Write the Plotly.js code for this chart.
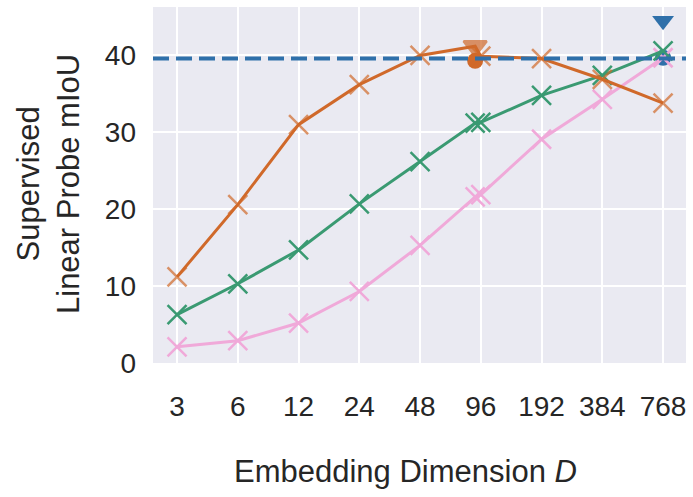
<!DOCTYPE html>
<html>
<head>
<meta charset="utf-8">
<script src="https://cdn.plot.ly/plotly-3.0.1.min.js"></script>
<style>html,body{margin:0;padding:0;background:#fff;}#chart{width:693px;height:497px;}</style>
</head>
<body>
<div id="chart"></div>
<script>
// Embedding dimensions (x) - 90 is the extra point next to 96
const dims = [3, 6, 12, 24, 48, 90, 96, 192, 384, 768];
const tickDims = [3, 6, 12, 24, 48, 96, 192, 384, 768];
const tickLabels = ["3", "6", "12", "24", "48", "96", "192", "384", "768"];
const yTicks = [0, 10, 20, 30, 40];

// Series values (mIoU)
const orangeVals = [11.2, 20.6, 31.0, 36.2, 40.0, 41.2, 39.9, 39.6, 36.9, 33.8];
const greenVals  = [6.3, 10.3, 14.7, 20.7, 26.2, 31.2, 31.3, 34.8, 37.4, 40.6];
const pinkVals   = [2.1, 2.9, 5.2, 9.3, 15.3, 21.6, 21.9, 29.1, 34.3, 39.7];

// Reference markers
const baselineValue = 39.6;
const blueTriDim = [768], blueTriVal = [44.5];
const blueCircDim = [768], blueCircVal = [39.7];
const orangeCircDim = [90], orangeCircVal = [39.3];

const cOrange = '#d0692a', cGreen = '#3a9a72', cPink = '#f0a9d9', cBlue = '#2f70aa';

const traces = [
  {x: blueCircDim, y: blueCircVal, mode: 'markers', type: 'scatter',
   marker: {symbol: 'circle', size: 16, color: cBlue}, hoverinfo: 'skip'},
  {x: orangeCircDim, y: orangeCircVal, mode: 'markers', type: 'scatter',
   marker: {symbol: 'circle', size: 16, color: cOrange}, hoverinfo: 'skip'},
  {x: dims, y: pinkVals, mode: 'lines+markers', type: 'scatter',
   line: {color: cPink, width: 3},
   marker: {symbol: 'x-thin-open', size: 19, color: cPink, line: {color: cPink, width: 2.5}}},
  {x: dims, y: greenVals, mode: 'lines+markers', type: 'scatter',
   line: {color: cGreen, width: 3},
   marker: {symbol: 'x-thin-open', size: 19, color: cGreen, line: {color: cGreen, width: 2.5}}},
  {x: dims, y: orangeVals, mode: 'lines+markers', type: 'scatter',
   line: {color: cOrange, width: 3},
   marker: {symbol: dims.map((d, i) => i === 5 ? 'triangle-down' : 'x-thin-open'),
            size: dims.map((d, i) => i === 5 ? 20 : 19),
            color: cOrange, line: {color: cOrange, width: 2.5}}},
  {x: blueTriDim, y: blueTriVal, mode: 'markers', type: 'scatter',
   marker: {symbol: 'triangle-down', size: 19, color: cBlue}, hoverinfo: 'skip'}
];

const font = 'Liberation Sans, Arial, Helvetica, sans-serif';

const layout = {
  width: 693, height: 497,
  margin: {l: 153, r: 7, t: 7, b: 134},
  paper_bgcolor: '#ffffff',
  plot_bgcolor: '#eaeaf2',
  showlegend: false,
  font: {family: font, size: 28, color: '#262626'},
  xaxis: {
    type: 'log',
    range: [0.358, 2.999],
    tickvals: tickDims, ticktext: tickLabels,
    showgrid: true, gridcolor: '#ffffff', gridwidth: 2,
    zeroline: false, showline: false, ticks: '',
    tickfont: {family: font, size: 28, color: '#262626'},
    ticklabelstandoff: 24
  },
  yaxis: {
    range: [0, 46.3],
    tickvals: yTicks,
    showgrid: true, gridcolor: '#ffffff', gridwidth: 2,
    zeroline: false, showline: false, ticks: '',
    tickfont: {family: font, size: 28, color: '#262626'},
    ticklabelstandoff: 16
  },
  shapes: [{
    type: 'line', xref: 'paper', x0: 0, x1: 1, yref: 'y', y0: baselineValue, y1: baselineValue,
    line: {color: cBlue, width: 4, dash: '16px,7px'}, layer: 'above'
  }],
  annotations: [
    {text: 'Supervised<br>Linear Probe mIoU', textangle: -90, xref: 'paper', yref: 'paper',
     x: (48 - 153) / 533, y: (363 - 184) / 356, xanchor: 'center', yanchor: 'middle',
     showarrow: false, font: {family: font, size: 31, color: '#262626'}},
    {text: 'Embedding Dimension <i>D</i>', xref: 'paper', yref: 'paper',
     x: (405 - 153) / 533, y: (363 - 472) / 356, xanchor: 'center', yanchor: 'middle',
     showarrow: false, font: {family: font, size: 31, color: '#262626'}}
  ]
};

Plotly.newPlot('chart', traces, layout, {staticPlot: true, displayModeBar: false});
</script>
</body>
</html>
